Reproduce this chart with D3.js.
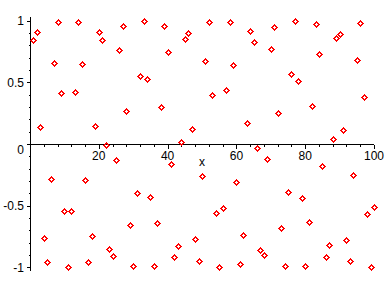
<!DOCTYPE html>
<html>
<head>
<meta charset="utf-8">
<script src="https://cdn.jsdelivr.net/npm/d3@7"></script>
<style>
	html, body { margin: 0; padding: 0; background: #fff; }
	svg text { font-family: "Liberation Sans", Arial, sans-serif; font-size: 12px; fill: #000; }
</style>
</head>
<body>
<div id="chart"></div>
<script>
(() => {
	// point positions (x) and values
	const xValues = d3.range(1, 101);
	const yValues = [
		0.84, 0.91, 0.14, -0.76, -0.96, -0.28, 0.66, 0.99, 0.41, -0.54,
		-1.00, -0.54, 0.42, 0.99, 0.65, -0.29, -0.96, -0.75, 0.15, 0.91,
		0.84, -0.01, -0.85, -0.91, -0.13, 0.76, 0.96, 0.27, -0.66, -0.99,
		-0.40, 0.55, 1.00, 0.53, -0.43, -0.99, -0.64, 0.30, 0.96, 0.75,
		-0.16, -0.92, -0.83, 0.02, 0.85, 0.90, 0.12, -0.77, -0.95, -0.26,
		0.67, 0.99, 0.40, -0.56, -1.00, -0.52, 0.44, 0.99, 0.64, -0.31,
		-0.97, -0.74, 0.17, 0.92, 0.83, -0.03, -0.86, -0.90, -0.12, 0.77,
		0.95, 0.25, -0.68, -0.99, -0.39, 0.57, 1.00, 0.51, -0.44, -0.99,
		-0.63, 0.31, 0.97, 0.73, -0.18, -0.92, -0.82, 0.04, 0.86, 0.89,
		0.11, -0.78, -0.95, -0.25, 0.68, 0.98, 0.38, -0.57, -1.00, -0.51,
	];
	const xTickLabels = [20, 40, 60, 80, 100];
	const yTickLabels = [1, 0.5, 0, -0.5, -1];
	const xLabel = 'x';

	const width = 388;
	const height = 288;

	const svg = d3.select('#chart').append('svg')
		.attr('width', width)
		.attr('height', height);

	const x = d3.scaleLinear()
		.domain([0, 100])
		.range([30, 374]);
	const y = d3.scaleLinear()
		.domain([-1.03, 1.03])
		.range([271, 17]);

	const axisColor = '#000';
	const axes = svg.append('g')
		.attr('shape-rendering', 'crispEdges')
		.attr('stroke', axisColor);

	// x axis line and ticks (hanging down)
	const x0 = Math.round(y(0)) + 0.5;
	axes.append('line')
		.attr('x1', x(0)).attr('x2', x(100))
		.attr('y1', x0).attr('y2', x0);
	axes.selectAll('.x-tick')
		.data(d3.range(4, 101, 4).concat(xTickLabels))
		.enter().append('line')
			.attr('class', 'x-tick')
			.attr('x1', d => Math.round(x(d)) + 0.5)
			.attr('x2', d => Math.round(x(d)) + 0.5)
			.attr('y1', x0)
			.attr('y2', d => x0 + (d % 20 === 0 ? 4 : 2));

	// y axis line and ticks (pointing left)
	const y0 = Math.round(x(0)) + 0.5;
	axes.append('line')
		.attr('x1', y0).attr('x2', y0)
		.attr('y1', y(1.03)).attr('y2', y(-1.03));
	axes.selectAll('.y-tick')
		.data(d3.range(-10, 11))
		.enter().append('line')
			.attr('class', 'y-tick')
			.attr('y1', d => Math.round(y(d / 10)) + 0.5)
			.attr('y2', d => Math.round(y(d / 10)) + 0.5)
			.attr('x1', y0)
			.attr('x2', d => y0 - (d % 5 === 0 ? 4 : 2));

	// tick labels
	svg.selectAll('.x-label')
		.data(xTickLabels)
		.enter().append('text')
			.attr('class', 'x-label')
			.attr('x', d => x(d))
			.attr('y', y(0) + 16)
			.attr('text-anchor', 'middle')
			.text(d => d);
	svg.selectAll('.y-label')
		.data(yTickLabels)
		.enter().append('text')
			.attr('class', 'y-label')
			.attr('x', 24)
			.attr('y', d => y(d) + (d === 0 ? 10 : 4.5))
			.attr('text-anchor', 'end')
			.text(d => d);

	svg.append('text')
		.attr('x', x(50))
		.attr('y', y(0) + 22)
		.attr('text-anchor', 'middle')
		.text(xLabel);

	// points as small red diamonds
	const r = 2.5;
	svg.append('g')
		.attr('shape-rendering', 'crispEdges')
		.selectAll('path')
		.data(xValues.map((d, i) => ({ x: d, y: yValues[i] })))
		.enter().append('path')
			.attr('transform', d => `translate(${Math.round(x(d.x)) + 0.5}, ${Math.round(y(d.y)) + 0.5})`)
			.attr('d', `M0,${-r}L${r},0L0,${r}L${-r},0Z`)
			.attr('fill', 'none')
			.attr('stroke', '#ff0000')
			.attr('stroke-width', 1);
})();
</script>
</body>
</html>
